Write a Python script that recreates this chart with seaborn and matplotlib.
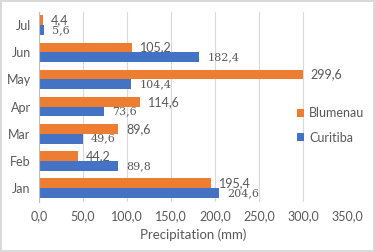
import pandas as pd
import matplotlib.pyplot as plt
import seaborn as sns

months=["Jan","Feb","Mar","Apr","May","Jun","Jul"]
blumenau=[195.4,44.2,89.6,114.6,299.6,105.2,4.4]
curitiba=[204.6,89.8,49.6,73.6,104.4,182.4,5.6]
xticks=[0,50,100,150,200,250,300,350]

df=pd.DataFrame({
    "month":months*2,
    "precip":blumenau+curitiba,
    "city":["Blumenau"]*len(months)+["Curitiba"]*len(months)
})

sns.set_style("white")
plt.rcParams["font.family"]=["Lato","DejaVu Sans"]
txt="#595959"

fig=plt.figure(figsize=(3.75,2.52),dpi=100)
ax=fig.add_axes([0.104,0.2,0.821,0.754])

sns.barplot(
    data=df,
    x="precip",
    y="month",
    hue="city",
    order=months[::-1],
    hue_order=["Blumenau","Curitiba"],
    palette=["#ED7D31","#4472C4"],
    saturation=1,
    width=0.72,
    linewidth=0,
    orient="h",
    ax=ax
)

fmt=lambda v: f"{v:.1f}".replace(".",",")
ax.bar_label(ax.containers[0],fmt=fmt,padding=6,fontsize=9,color=txt)
ax.bar_label(ax.containers[1],fmt=fmt,padding=6,fontsize=8,color=txt,
             family=["DejaVu Serif"])

ax.set_xlim(0,350)
ax.set_xticks(xticks)
ax.set_xticklabels([f"{t:.1f}".replace(".",",") for t in xticks])
ax.tick_params(axis="both",labelsize=9,colors=txt,length=0,pad=6)
ax.set_xlabel("Precipitation (mm)",fontsize=9.5,color=txt,labelpad=5)
ax.set_ylabel("")
ax.xaxis.grid(True,color="#d9d9d9",linewidth=0.8)
ax.set_axisbelow(True)
for s in ["top","right","bottom"]:
    ax.spines[s].set_visible(False)
ax.spines["left"].set_color("#bfbfbf")
ax.spines["left"].set_linewidth(0.8)

leg=ax.legend(
    loc="center left",
    bbox_to_anchor=(0.8,0.4),
    frameon=False,
    fontsize=9,
    handlelength=0.6,
    handleheight=0.6,
    handletextpad=0.4,
    labelspacing=1.0,
    labelcolor=txt
)

fig.patch.set_edgecolor("#d9d9d9")
fig.patch.set_linewidth(1.5)

plt.savefig("out.png",dpi=100,edgecolor=fig.get_edgecolor())
